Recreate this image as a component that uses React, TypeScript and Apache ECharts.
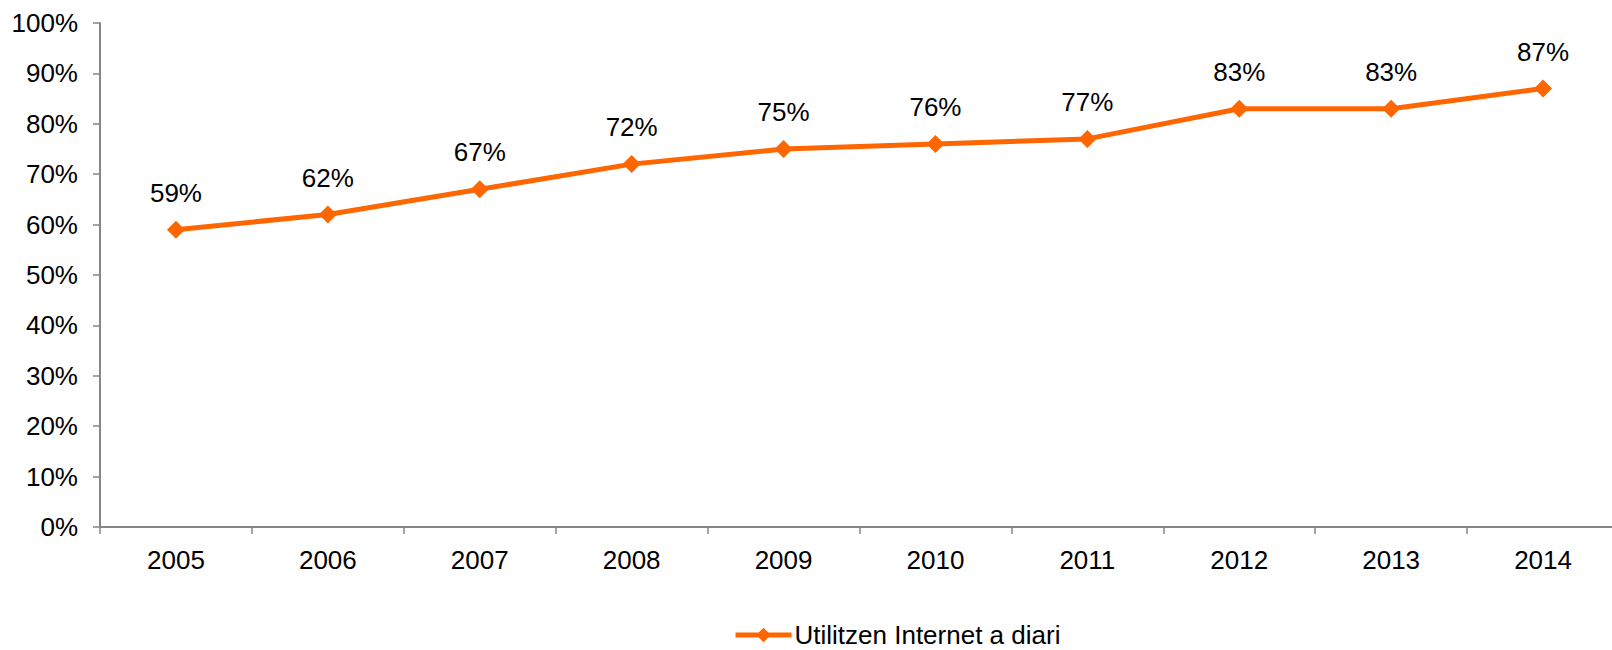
import React, { useEffect, useRef } from "react";
import * as echarts from "echarts";

const categories = ["2005", "2006", "2007", "2008", "2009", "2010", "2011", "2012", "2013", "2014"];
const values = [59, 62, 67, 72, 75, 76, 77, 83, 83, 87];
const seriesName = "Utilitzen Internet a diari";

export default function App() {
  const ref = useRef<HTMLDivElement>(null);
  useEffect(() => {
    if (!ref.current) return;
    const chart = echarts.init(ref.current, null, { renderer: "svg" });
    const font = "Arial, 'Liberation Sans', sans-serif";
    const axisColor = "#868686";
    chart.setOption({
      animation: false,
      backgroundColor: "#ffffff",
      grid: { left: 100, width: 1519, top: 23, height: 504, containLabel: false },
      legend: {
        top: 622,
        left: 733,
        padding: 0,
        itemWidth: 56,
        itemHeight: 18,
        itemGap: 10,
        lineStyle: { width: 5 },
        textStyle: { fontFamily: font, fontSize: 26, lineHeight: 20, color: "#000", padding: [0, 0, 0, -2] },
        data: [seriesName],
      },
      xAxis: {
        type: "category",
        data: categories,
        boundaryGap: true,
        axisLine: { lineStyle: { color: axisColor, width: 2 } },
        axisTick: { show: true, length: 7, alignWithLabel: false, lineStyle: { color: axisColor, width: 1.5 } },
        axisLabel: { fontFamily: font, fontSize: 26, color: "#000", margin: 20 },
        splitLine: { show: false },
      },
      yAxis: {
        type: "value",
        min: 0,
        max: 100,
        interval: 10,
        axisLine: { show: true, lineStyle: { color: axisColor, width: 2 } },
        axisTick: { show: true, length: 7, lineStyle: { color: axisColor, width: 1.5 } },
        axisLabel: { fontFamily: font, fontSize: 26, color: "#000", margin: 22, formatter: "{value}%" },
        splitLine: { show: false },
      },
      series: [
        {
          name: seriesName,
          type: "line",
          data: values,
          symbol: "diamond",
          symbolSize: 18,
          lineStyle: { color: "#FF6600", width: 5 },
          itemStyle: { color: "#FF6600" },
          label: {
            show: true,
            position: "top",
            distance: 15,
            formatter: "{c}%",
            fontFamily: font,
            fontSize: 26,
            color: "#000",
          },
        },
      ],
    });
    return () => chart.dispose();
  }, []);
  return (
    <div style={{ position: "fixed", left: 0, top: 0, width: 1612, height: 650, overflow: "hidden", background: "#fff" }}>
      <div ref={ref} style={{ width: 1630, height: 650 }} />
    </div>
  );
}
